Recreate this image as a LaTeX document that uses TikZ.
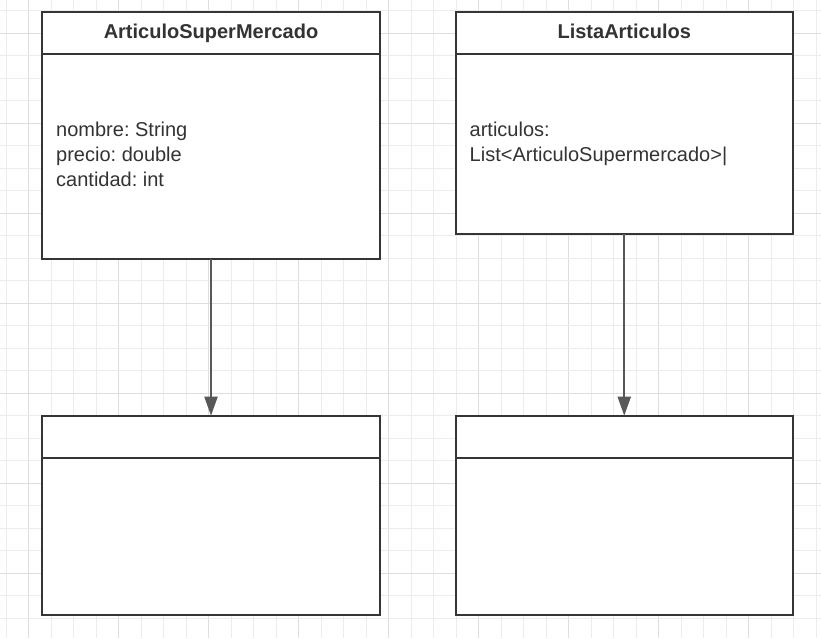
\documentclass[tikz,border=0pt]{standalone}
\usepackage{fontspec}
\setmainfont{Liberation Sans}
\frenchspacing
\usetikzlibrary{arrows.meta,positioning}
\definecolor{gridminor}{HTML}{ECECEC}
\definecolor{gridmajor}{HTML}{DEDEDE}
\definecolor{boxline}{HTML}{353535}
\definecolor{arrline}{HTML}{585858}
\definecolor{txt}{HTML}{333333}
\tikzset{
  x=1pt,y=-1pt,
  boxpart/.style={draw=boxline,fill=white,line width=2pt,rectangle,inner sep=0pt,outer sep=0pt},
  hdr/.style={boxpart,minimum height=42pt,text height=15.5pt,text depth=3.2pt,font=\fontsize{20}{24}\selectfont\bfseries,text=txt},
  bodytext/.style={anchor=west,align=left,inner sep=0pt,font=\fontsize{20}{25}\selectfont,text=txt},
  arr/.style={draw=arrline,line width=2pt,-{Triangle[length=19pt,width=13pt]}},
}
\begin{document}
\begin{tikzpicture}
\useasboundingbox (0,0) rectangle (821,638);
\fill[white] (0,0) rectangle (821,638);
% grid
\foreach \k in {0,...,36}{
  \pgfmathsetmacro{\gx}{6.2+22.5*\k}
  \pgfmathtruncatemacro{\m}{mod(\k,4)}
  \ifnum\m=1 \draw[gridmajor,line width=1pt] (\gx,0) -- (\gx,638);
  \else \draw[gridminor,line width=1pt] (\gx,0) -- (\gx,638); \fi
}
\foreach \k in {0,...,27}{
  \pgfmathsetmacro{\gy}{10.8+22.5*\k}
  \pgfmathtruncatemacro{\m}{mod(\k,4)}
  \ifnum\m=1 \draw[gridmajor,line width=1pt] (0,\gy) -- (821,\gy);
  \else \draw[gridminor,line width=1pt] (0,\gy) -- (821,\gy); \fi
}
% class 1
\node[hdr,minimum width=338pt] (ah) at (211,32.5) {ArticuloSuperMercado};
\node[boxpart,minimum width=338pt,minimum height=205.5pt,anchor=north] (ab) at (ah.south) {};
\node[bodytext] (at) at ([xshift=14pt,yshift=2pt]ab.west) {nombre: String\\precio: double\\cantidad: int};
% class 2
\node[hdr,minimum width=337.5pt] (lh) at (624.25,32.5) {ListaArticulos};
\node[boxpart,minimum width=337.5pt,minimum height=180.5pt,anchor=north] (lb) at (lh.south) {};
\node[bodytext] (lt) at ([xshift=14pt,yshift=-0.5pt]lb.west) {articulos:\\List<ArticuloSupermercado>|};
% empty class 3
\node[hdr,minimum width=338pt,minimum height=42.6pt] (eh) at (211,437) {};
\node[boxpart,minimum width=338pt,minimum height=156.7pt,anchor=north] (eb) at (eh.south) {};
% empty class 4
\node[hdr,minimum width=337.5pt,minimum height=42.6pt] (fh) at (624.25,437) {};
\node[boxpart,minimum width=337.5pt,minimum height=156.7pt,anchor=north] (fb) at (fh.south) {};
% arrows
\draw[arr] (ab.south) -- (eh.north);
\draw[arr] (lb.south) -- (fh.north);
\end{tikzpicture}
\end{document}
